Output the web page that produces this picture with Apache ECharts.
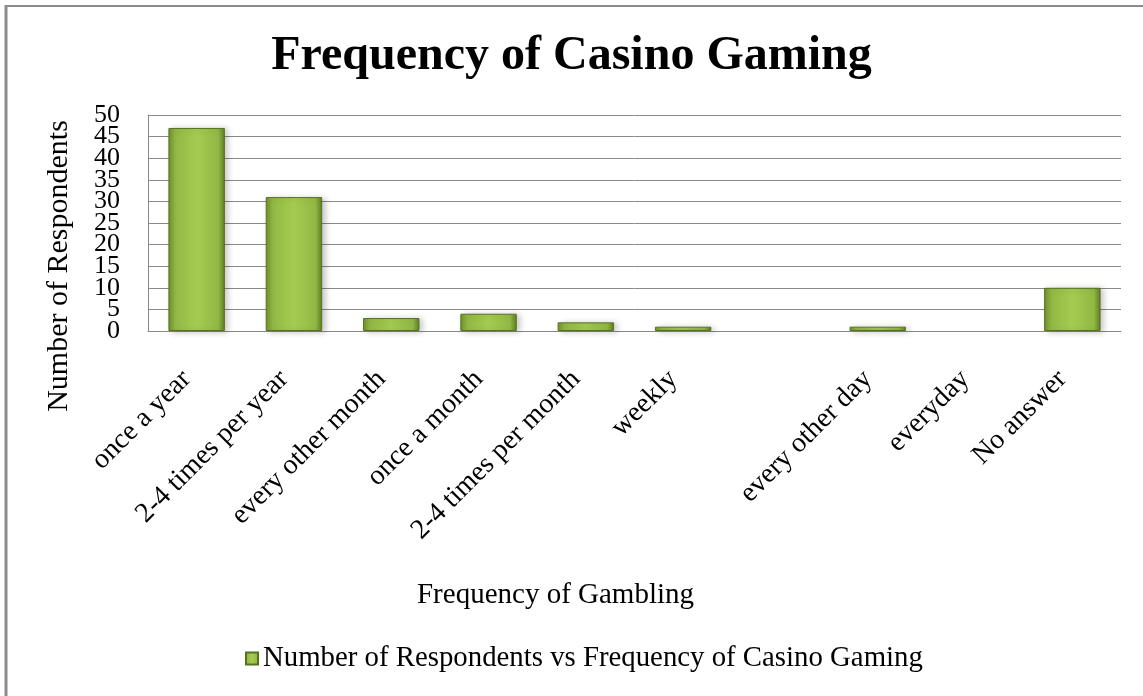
<!DOCTYPE html>
<html>
<head>
<meta charset="utf-8">
<script src="https://cdn.jsdelivr.net/npm/echarts@6/dist/echarts.min.js"></script>
<style>
  html, body { margin: 0; padding: 0; background: #fff; }
  #chart { width: 1143px; height: 696px; }
</style>
</head>
<body>
<div id="chart"></div>
<script>
// Survey responses: how often respondents visit a casino
const categories = ['once a year', '2-4 times per year', 'every other month', 'once a month',
  '2-4 times per month', 'weekly', '', 'every other day', 'everyday', 'No answer'];
const respondents = [47, 31, 3, 4, 2, 1, 0, 1, 0, 10];
const yTicks = { min: 0, max: 50, interval: 5 };
// the tall labels crowd each other, so they are split across two stacked label rows
const yLabelsTens = [0, 10, 20, 30, 40, 50];
const yLabelsFives = [5, 15, 25, 35, 45];

const seriesName = 'Number of Respondents vs Frequency of Casino Gaming';
const serif = '"Liberation Serif", "Times New Roman", serif';

const barFill = {
  type: 'linear', x: 0, y: 0, x2: 1, y2: 0,
  colorStops: [
    { offset: 0, color: '#6f8f2e' },
    { offset: 0.12, color: '#92b944' },
    { offset: 0.5, color: '#a5cb51' },
    { offset: 0.88, color: '#92b944' },
    { offset: 1, color: '#5f7d26' }
  ]
};

// zero counts leave an empty slot rather than a hairline
const barData = respondents.map(v => v === 0
  ? { value: v, itemStyle: { opacity: 0 } }
  : v);

const yLabelStyle = { margin: 28, fontFamily: serif, fontSize: 26, color: '#000' };

const chart = echarts.init(document.getElementById('chart'));
chart.setOption({
  backgroundColor: '#ffffff',
  animation: false,
  title: {
    text: 'Frequency of Casino Gaming',
    left: 'center',
    top: 28,
    textStyle: { fontFamily: serif, fontSize: 48, fontWeight: 'bold', color: '#000' }
  },
  legend: {
    data: [seriesName],
    bottom: 18,
    left: 240,
    itemWidth: 12,
    itemHeight: 12,
    itemGap: 6,
    icon: 'rect',
    textStyle: { fontFamily: serif, fontSize: 28.8, color: '#000' }
  },
  grid: { left: 148, top: 115, right: 22, bottom: 365, containLabel: false },
  xAxis: {
    type: 'category',
    data: categories,
    name: 'Frequency of Gambling',
    nameLocation: 'middle',
    nameGap: 250,
    nameTextStyle: { fontFamily: serif, fontSize: 29, color: '#000', padding: [0, 158, 0, 0] },
    axisLine: { show: true, lineStyle: { color: '#888', width: 1 } },
    axisTick: { show: false },
    axisLabel: {
      interval: 0, rotate: 45, margin: 34, padding: [0, 14, 0, 0],
      fontFamily: serif, fontSize: 28, color: '#000'
    }
  },
  yAxis: [{
    type: 'value',
    position: 'left',
    min: yTicks.min, max: yTicks.max, interval: yTicks.interval,
    name: 'Number of Respondents',
    nameLocation: 'middle',
    nameRotate: 90,
    nameGap: 74,
    nameTextStyle: { fontFamily: serif, fontSize: 30, color: '#000', padding: [0, 86, 0, 0] },
    axisLine: { show: true, lineStyle: { color: '#888', width: 1 } },
    axisTick: { show: false },
    axisLabel: Object.assign({ customValues: yLabelsTens }, yLabelStyle),
    splitLine: { show: true, lineStyle: { color: '#8a8a8a', width: 1 } }
  }, {
    type: 'value',
    position: 'left',
    min: yTicks.min, max: yTicks.max, interval: yTicks.interval,
    axisLine: { show: false },
    axisTick: { show: false },
    axisLabel: Object.assign({ customValues: yLabelsFives }, yLabelStyle),
    splitLine: { show: false }
  }],
  series: [{
    name: seriesName,
    type: 'bar',
    yAxisIndex: 0,
    data: barData,
    barWidth: '58%',
    itemStyle: {
      color: barFill,
      borderColor: '#56721f',
      borderWidth: 1,
      shadowColor: 'rgba(0,0,0,0.22)',
      shadowBlur: 6,
      shadowOffsetX: 3,
      shadowOffsetY: 1
    }
  }],
  graphic: [
    { type: 'line', shape: { x1: 5, y1: 6, x2: 1143, y2: 6 }, style: { stroke: '#8c8c8c', lineWidth: 2 } },
    { type: 'line', shape: { x1: 6, y1: 5, x2: 6, y2: 696 }, style: { stroke: '#8c8c8c', lineWidth: 3 } }
  ]
});
</script>
</body>
</html>
